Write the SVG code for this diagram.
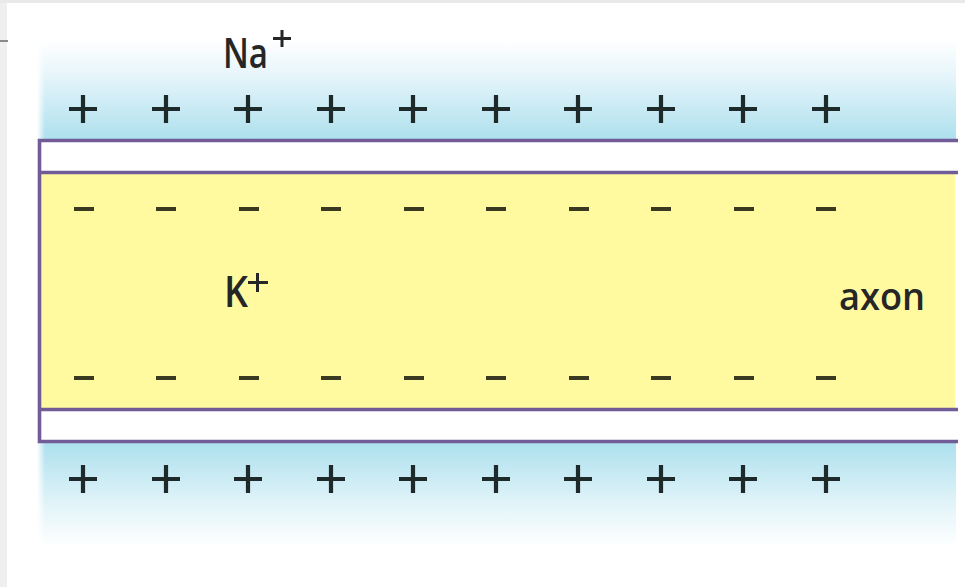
<svg xmlns="http://www.w3.org/2000/svg" width="965" height="587" viewBox="0 0 965 587">
  <defs>
    <linearGradient id="blueTop" x1="0" y1="0" x2="0" y2="1">
      <stop offset="0" stop-color="#ffffff"/>
      <stop offset="0.35" stop-color="#e6f5fa"/>
      <stop offset="1" stop-color="#ade0ee"/>
    </linearGradient>
    <linearGradient id="blueBot" x1="0" y1="0" x2="0" y2="1">
      <stop offset="0" stop-color="#ade0ee"/>
      <stop offset="0.6" stop-color="#e3f4f9"/>
      <stop offset="1" stop-color="#ffffff"/>
    </linearGradient>
    <linearGradient id="fadeL" x1="0" y1="0" x2="1" y2="0">
      <stop offset="0" stop-color="#ffffff" stop-opacity="1"/>
      <stop offset="1" stop-color="#ffffff" stop-opacity="0"/>
    </linearGradient>
    <g id="plus">
      <path d="M-14 0 H14 M0 -14 V14" stroke="#1e2a2a" stroke-width="4.2" fill="none"/>
    </g>
    <g id="minus">
      <path d="M-10 0 H10" stroke="#3a3a22" stroke-width="4" fill="none"/>
    </g>
  </defs>
  <style>
    .lbl { font-family: "Open Sans", "Liberation Sans", sans-serif; font-weight: 600; fill: #262626; }
    .mem { stroke: #725c98; stroke-width: 3.6; fill: none; }
  </style>

  <rect x="0" y="0" width="965" height="587" fill="#ffffff"/>
  <rect x="0" y="0" width="965" height="3" fill="#e9e9e9"/>
  <rect x="0" y="3" width="7" height="584" fill="#efefef"/>
  <rect x="0" y="40" width="8" height="2" fill="#8a8a8a"/>

  <g id="extracellular-top">
    <rect x="37" y="40" width="919" height="100" fill="url(#blueTop)"/>
    <rect x="37" y="40" width="8" height="100" fill="url(#fadeL)"/>
  </g>
  <g id="extracellular-bottom">
    <rect x="37" y="443" width="919" height="104" fill="url(#blueBot)"/>
    <rect x="37" y="443" width="8" height="104" fill="url(#fadeL)"/>
  </g>

  <g id="membrane-top">
    <rect x="39" y="141" width="919" height="31" fill="#ffffff"/>
  </g>
  <g id="membrane-bottom">
    <rect x="39" y="411" width="919" height="31" fill="#ffffff"/>
  </g>
  <g id="axon">
    <rect x="40" y="173" width="915" height="236" fill="#fffaa0"/>
    <text class="lbl" x="839" y="310" font-size="38" textLength="86" lengthAdjust="spacingAndGlyphs">axon</text>
  </g>

  <g id="connectors">
    <path class="mem" d="M958 140.5 H39.5 V441.5 H958"/>
    <path class="mem" d="M39.5 172.5 H958"/>
    <path class="mem" d="M39.5 409.5 H958"/>
  </g>

  <g id="label-na">
    <text class="lbl" x="223" y="68" font-size="42" textLength="45" lengthAdjust="spacingAndGlyphs">Na</text>
    <path d="M273 38.5 H291 M282 30 V47" stroke="#262626" stroke-width="3" fill="none"/>
  </g>
  <g id="label-k">
    <text class="lbl" x="224" y="307" font-size="43" textLength="24" lengthAdjust="spacingAndGlyphs">K</text>
    <path d="M248 282.5 H268 M257.5 273 V292" stroke="#262626" stroke-width="3" fill="none"/>
  </g>

  <g id="charges-top-plus">
    <use href="#plus" x="83" y="109"/><use href="#plus" x="166" y="109"/><use href="#plus" x="248" y="109"/><use href="#plus" x="331" y="109"/><use href="#plus" x="413" y="109"/><use href="#plus" x="496" y="109"/><use href="#plus" x="578" y="109"/><use href="#plus" x="661" y="109"/><use href="#plus" x="743" y="109"/><use href="#plus" x="826" y="109"/>
  </g>
  <g id="charges-bottom-plus">
    <use href="#plus" x="83" y="479"/><use href="#plus" x="166" y="479"/><use href="#plus" x="248" y="479"/><use href="#plus" x="331" y="479"/><use href="#plus" x="413" y="479"/><use href="#plus" x="496" y="479"/><use href="#plus" x="578" y="479"/><use href="#plus" x="661" y="479"/><use href="#plus" x="743" y="479"/><use href="#plus" x="826" y="479"/>
  </g>
  <g id="charges-top-minus">
    <use href="#minus" x="84" y="209"/><use href="#minus" x="166" y="209"/><use href="#minus" x="249" y="209"/><use href="#minus" x="331" y="209"/><use href="#minus" x="414" y="209"/><use href="#minus" x="496" y="209"/><use href="#minus" x="579" y="209"/><use href="#minus" x="661" y="209"/><use href="#minus" x="744" y="209"/><use href="#minus" x="826" y="209"/>
  </g>
  <g id="charges-bottom-minus">
    <use href="#minus" x="84" y="378"/><use href="#minus" x="166" y="378"/><use href="#minus" x="249" y="378"/><use href="#minus" x="331" y="378"/><use href="#minus" x="414" y="378"/><use href="#minus" x="496" y="378"/><use href="#minus" x="579" y="378"/><use href="#minus" x="661" y="378"/><use href="#minus" x="744" y="378"/><use href="#minus" x="826" y="378"/>
  </g>
</svg>
